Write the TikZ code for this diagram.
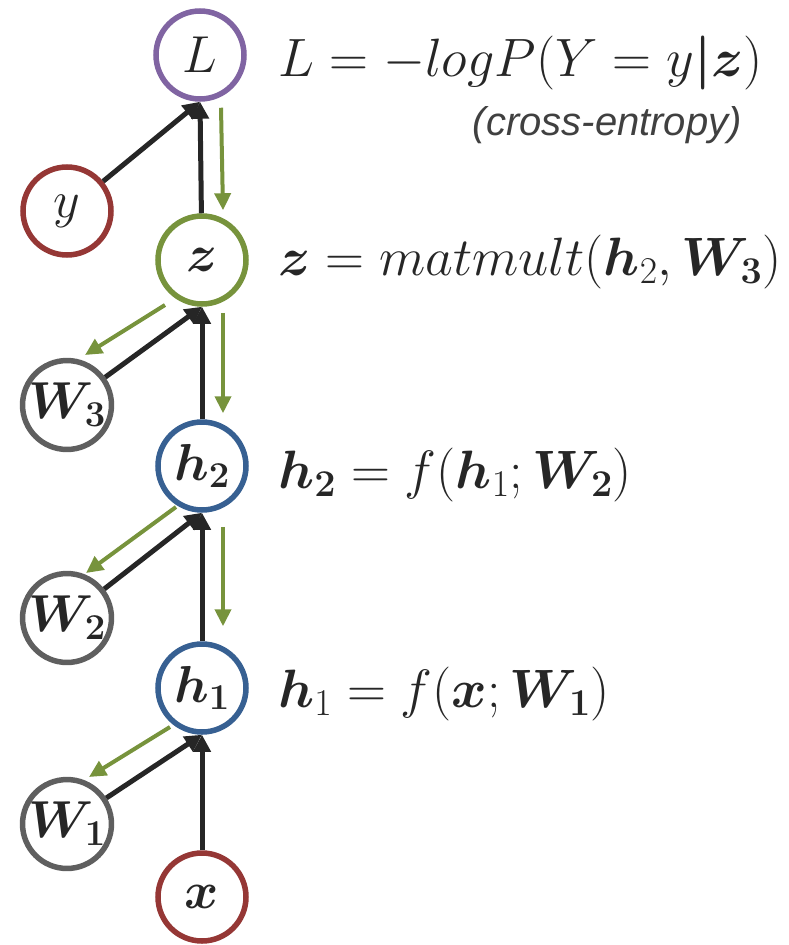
\RequirePackage{fix-cm}
\documentclass[tikz,border=0pt]{standalone}
\usepackage{amsmath}
\usepackage{fontspec}
\newfontfamily\arialfont{Liberation Sans}
\usepackage{bm}
\usetikzlibrary{arrows.meta,calc}
\definecolor{cpurple}{HTML}{8064A2}
\definecolor{cred}{HTML}{953735}
\definecolor{cgreen}{HTML}{77933C}
\definecolor{cblue}{HTML}{376092}
\definecolor{cgrey}{HTML}{5F5F5F}
\definecolor{ink}{HTML}{262626}
\definecolor{inkgrey}{HTML}{404040}
\begin{document}
\begin{tikzpicture}[x=1pt,y=-1pt,
  nd/.style={circle, draw, line width=5.5pt, minimum size=88pt, inner sep=0pt, fill=white,
    font=\fontsize{52}{60}\selectfont, text=ink},
  eq/.style={anchor=base west, inner sep=0pt, font=\fontsize{54}{60}\selectfont, text=ink},
  fwd/.style={draw=ink, line width=5pt, -{Triangle[length=17pt,width=17pt]}},
  bwd/.style={draw=cgreen, line width=4pt, -{Triangle[length=17pt,width=16pt]}}]
\useasboundingbox (0,0) rectangle (788,945);
% nodes
\node[nd, draw=cpurple] (L)  at (200,55)  {$L$};
\node[nd, draw=cred]    (y)  at (67,211)  {$y$};
\node[nd, draw=cgreen]  (z)  at (202,260) {$\bm{z}$};
\node[nd, draw=cgrey]   (W3) at (67,405)  {$\bm{W_3}$};
\node[nd, draw=cblue]   (h2) at (202,466) {$\bm{h_2}$};
\node[nd, draw=cgrey]   (W2) at (67,618)  {$\bm{W_2}$};
\node[nd, draw=cblue]   (h1) at (202,688) {$\bm{h_1}$};
\node[nd, draw=cgrey]   (W1) at (67,824)  {$\bm{W_1}$};
\node[nd, draw=cred]    (x)  at (202,897) {$\bm{x}$};
% forward arrows
\draw[fwd] (y) -- (L.south);
\draw[fwd] (z) -- (L.south);
\draw[fwd] (W3) -- (z.south);
\draw[fwd] (h2) -- (z.south);
\draw[fwd] (W2) -- (h2.south);
\draw[fwd] (h1) -- (h2.south);
\draw[fwd] (W1) -- (h1.south);
\draw[fwd] (x) -- (h1.south);
% backward arrows
\draw[bwd] ($(L.south)+(21,6)$) -- ($(z.north)+(21,-3)$);
\draw[bwd] ($(z.south)+(21,6)$) -- ($(h2.north)+(21,-6)$);
\draw[bwd] ($(h2.south)+(21,14)$) -- ($(h1.north)+(21,-15)$);
\draw[bwd] ($(z)+(-37,45)$) -- ($(W3)+(18,-50)$);
\draw[bwd] ($(h2)+(-26,41)$) -- ($(W2)+(19,-45)$);
\draw[bwd] ($(h1)+(-32,39)$) -- ($(W1)+(22,-47)$);
% equations
\node[eq] (eqL) at (278,76) {$L=-logP(Y=y\bm{|}\bm{z})$};
\node[anchor=base east, inner sep=0pt, font=\arialfont\itshape\fontsize{40}{48}\selectfont, text=inkgrey] (ce) at (742,135) {(cross-entropy)};
\node[eq] (eqz) at (278,275) {$\bm{z}=matmult(\bm{h}_2,\bm{W_3})$};
\node[eq] (eqh2) at (278,488) {$\bm{h_2}=f(\bm{h}_1;\bm{W_2})$};
\node[eq] (eqh1) at (278,707) {$\bm{h}_1=f(\bm{x};\bm{W_1})$};
\end{tikzpicture}
\end{document}
